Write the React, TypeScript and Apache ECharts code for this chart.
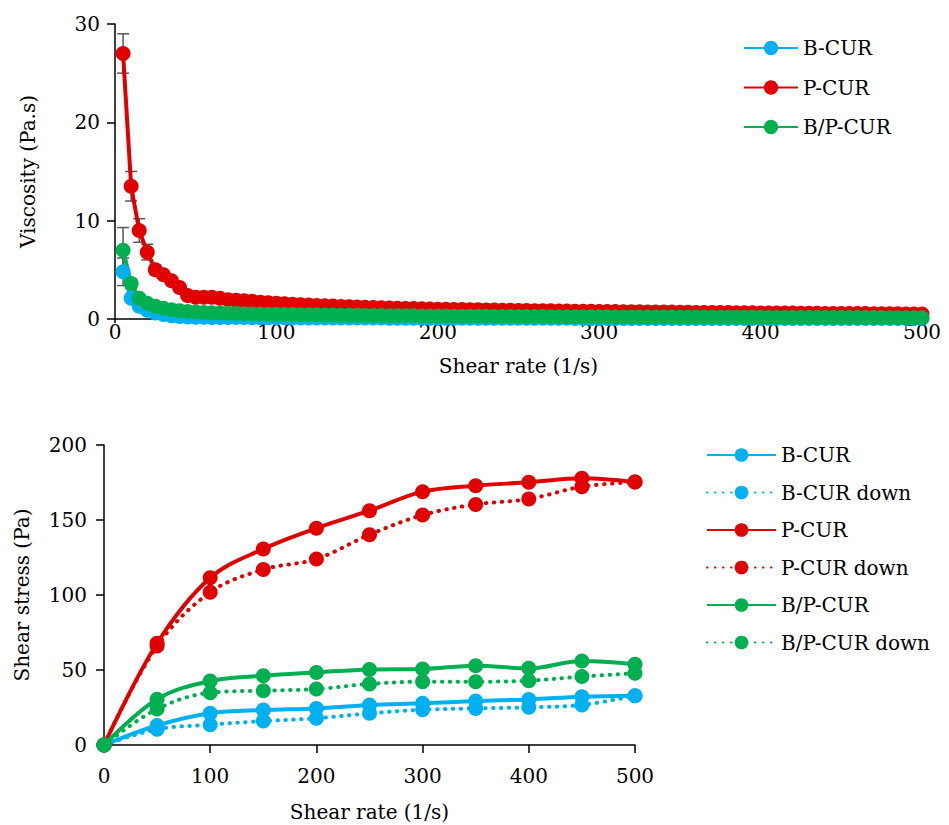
import React, { useEffect, useRef } from 'react';
import * as echarts from 'echarts';

const FONT = 'DejaVu Serif';
const BLUE = '#00B0F0';
const RED = '#E00000';
const GREEN = '#00B050';
const ERR = '#595959';

// ---- Top chart: viscosity vs shear rate ----
const viscRates = [
  5, 10, 15, 20, 25, 30, 35, 40, 45, 50, 55, 60, 65, 70, 75, 80, 85, 90, 95, 100,
  105, 110, 115, 120, 125, 130, 135, 140, 145, 150, 155, 160, 165, 170, 175, 180, 185, 190, 195, 200,
  205, 210, 215, 220, 225, 230, 235, 240, 245, 250, 255, 260, 265, 270, 275, 280, 285, 290, 295, 300,
  305, 310, 315, 320, 325, 330, 335, 340, 345, 350, 355, 360, 365, 370, 375, 380, 385, 390, 395, 400,
  405, 410, 415, 420, 425, 430, 435, 440, 445, 450, 455, 460, 465, 470, 475, 480, 485, 490, 495, 500,
];
const viscB = [
  4.8, 2.1, 1.3, 0.9, 0.6, 0.45, 0.32, 0.25, 0.2, 0.18, 0.17, 0.16, 0.15, 0.15, 0.14, 0.14, 0.13, 0.13, 0.12, 0.12,
  0.12, 0.11, 0.11, 0.11, 0.1, 0.1, 0.1, 0.1, 0.09, 0.09, 0.09, 0.09, 0.09, 0.08, 0.08, 0.08, 0.08, 0.08, 0.08, 0.07,
  0.07, 0.07, 0.07, 0.07, 0.07, 0.07, 0.07, 0.07, 0.07, 0.07, 0.065, 0.065, 0.065, 0.065, 0.065, 0.065, 0.06, 0.06, 0.06, 0.06,
  0.06, 0.06, 0.06, 0.06, 0.055, 0.055, 0.055, 0.055, 0.055, 0.055, 0.055, 0.05, 0.05, 0.05, 0.05, 0.05, 0.05, 0.05, 0.05, 0.05,
  0.05, 0.05, 0.045, 0.045, 0.045, 0.045, 0.045, 0.045, 0.045, 0.045, 0.04, 0.04, 0.04, 0.04, 0.04, 0.04, 0.04, 0.04, 0.04, 0.04,
];
const viscP = [
  27.0, 13.5, 9.0, 6.8, 5.0, 4.5, 3.9, 3.2, 2.4, 2.2, 2.2, 2.2, 2.1, 1.95, 1.9, 1.85, 1.8, 1.7, 1.65, 1.6,
  1.55, 1.5, 1.45, 1.42, 1.38, 1.35, 1.32, 1.28, 1.25, 1.22, 1.2, 1.17, 1.15, 1.12, 1.1, 1.08, 1.06, 1.04, 1.02, 1.0,
  0.99, 0.97, 0.96, 0.95, 0.93, 0.92, 0.91, 0.9, 0.88, 0.87, 0.86, 0.85, 0.84, 0.83, 0.82, 0.81, 0.8, 0.79, 0.78, 0.77,
  0.76, 0.75, 0.74, 0.74, 0.73, 0.72, 0.71, 0.7, 0.7, 0.69, 0.68, 0.67, 0.67, 0.66, 0.65, 0.65, 0.64, 0.63, 0.63, 0.62,
  0.61, 0.61, 0.6, 0.6, 0.59, 0.58, 0.58, 0.57, 0.57, 0.56, 0.56, 0.55, 0.55, 0.54, 0.54, 0.53, 0.53, 0.52, 0.52, 0.51,
];
const viscBP = [
  7.0, 3.6, 2.1, 1.6, 1.3, 1.1, 0.95, 0.85, 0.75, 0.7, 0.66, 0.63, 0.6, 0.58, 0.56, 0.54, 0.52, 0.5, 0.49, 0.48,
  0.46, 0.45, 0.44, 0.43, 0.42, 0.41, 0.4, 0.39, 0.38, 0.37, 0.36, 0.355, 0.35, 0.34, 0.335, 0.33, 0.32, 0.315, 0.31, 0.3,
  0.295, 0.29, 0.285, 0.28, 0.275, 0.27, 0.265, 0.26, 0.26, 0.255, 0.25, 0.25, 0.245, 0.24, 0.24, 0.235, 0.23, 0.23, 0.225, 0.22,
  0.22, 0.215, 0.21, 0.21, 0.205, 0.2, 0.2, 0.2, 0.195, 0.19, 0.19, 0.19, 0.185, 0.18, 0.18, 0.18, 0.175, 0.175, 0.17, 0.17,
  0.165, 0.165, 0.16, 0.16, 0.16, 0.155, 0.155, 0.15, 0.15, 0.15, 0.145, 0.145, 0.14, 0.14, 0.14, 0.135, 0.135, 0.13, 0.13, 0.13,
];
// standard deviations for the first points (rest hidden under markers)
const errB = [1.4, 0.4, 0.2];
const errP = [2.0, 1.5, 1.2, 0.8, 0.5, 0.3];
const errBP = [2.3, 0.5, 0.2];

// ---- Bottom chart: shear stress vs shear rate ----
const stressRates = [0, 50, 100, 150, 200, 250, 300, 350, 400, 450, 500];
const stressB = [0, 13, 21.1, 23.3, 24.4, 26.7, 27.8, 29.3, 30.4, 32.2, 32.9];
const stressBdown = [0, 10.5, 13.5, 16, 17.8, 21.1, 23.5, 24.4, 25.1, 26.7, 32.9];
const stressP = [0, 67.8, 111.5, 130.7, 144.5, 156.2, 168.9, 172.9, 175.1, 177.8, 175.3];
const stressPdown = [0, 66, 101.8, 117, 124, 140.2, 153.3, 160.4, 164, 172.2, 175.3];
const stressBP = [0, 30.5, 42.7, 46.2, 48.4, 50.4, 50.7, 52.9, 51.1, 56, 53.8];
const stressBPdown = [0, 24, 34.9, 36.2, 37.3, 40.7, 42.2, 42.2, 42.9, 45.6, 47.8];

const topLegend = ['B-CUR', 'P-CUR', 'B/P-CUR'];
const bottomLegend = ['B-CUR', 'B-CUR down', 'P-CUR', 'P-CUR down', 'B/P-CUR', 'B/P-CUR down'];

const pairs = (xs: number[], ys: number[]) => ys.map((y, i) => [xs[i], y]);
const errData = (ys: number[], es: number[]) => es.map((e, i) => [viscRates[i], ys[i], e]);

const textStyle = { fontFamily: FONT, fontSize: 20, color: '#000' };

export default function App() {
  const ref = useRef<HTMLDivElement>(null);
  useEffect(() => {
    if (!ref.current) return;
    const chart = echarts.init(ref.current, undefined, { renderer: 'svg' });

    const axisLine = { show: true, lineStyle: { color: '#000', width: 1.5 } };
    const axisTick = (len: number) => ({ show: true, length: len, lineStyle: { color: '#000', width: 1.5 } });

    const topLine = (name: string, color: string, ys: number[]) => ({
      name,
      type: 'line',
      xAxisIndex: 0,
      yAxisIndex: 0,
      data: pairs(viscRates, ys),
      symbol: 'circle',
      symbolSize: 15,
      itemStyle: { color },
      lineStyle: { color, width: 4 },
      z: 3,
    });

    const botLine = (name: string, color: string, ys: number[], dotted: boolean) => ({
      name: 'b:' + name,
      type: 'line',
      xAxisIndex: 1,
      yAxisIndex: 1,
      data: pairs(stressRates, ys),
      symbol: 'circle',
      symbolSize: 15,
      smooth: 0.35,
      itemStyle: { color },
      lineStyle: dotted
        ? { color, width: 4, type: [0.5, 7.5], cap: 'round' }
        : { color, width: 4 },
      z: 3,
    });

    const errSeries = (data: number[][]) => ({
      type: 'custom',
      xAxisIndex: 0,
      yAxisIndex: 0,
      silent: true,
      z: 2,
      data,
      renderItem: (_p: any, api: any) => {
        const x = api.value(0);
        const y = api.value(1);
        const e = api.value(2);
        const t = api.coord([x, y + e]);
        const b = api.coord([x, y - e]);
        const hw = 6;
        const style = { stroke: ERR, lineWidth: 1.5 };
        return {
          type: 'group',
          children: [
            { type: 'line', shape: { x1: t[0], y1: t[1], x2: b[0], y2: b[1] }, style },
            { type: 'line', shape: { x1: t[0] - hw, y1: t[1], x2: t[0] + hw, y2: t[1] }, style },
            { type: 'line', shape: { x1: b[0] - hw, y1: b[1], x2: b[0] + hw, y2: b[1] }, style },
          ],
        };
      },
    });

    chart.setOption({
      animation: false,
      backgroundColor: '#fff',
      textStyle: { fontFamily: FONT },
      grid: [
        { left: 115, top: 24, width: 807, height: 295 },
        { left: 104, top: 445, width: 531, height: 300 },
      ],
      legend: [
        {
          data: topLegend,
          orient: 'vertical',
          left: 743,
          top: 38,
          padding: 0,
          itemWidth: 54,
          itemHeight: 18,
          itemGap: 19.5,
          textStyle,
          selectedMode: false,
        },
        {
          data: bottomLegend.map((n) => 'b:' + n),
          orient: 'vertical',
          left: 706,
          top: 445,
          padding: 0,
          itemWidth: 69,
          itemHeight: 17,
          itemGap: 17.5,
          textStyle,
          selectedMode: false,
          formatter: (n: string) => n.replace(/^b:/, ''),
        },
      ],
      xAxis: [
        {
          type: 'value',
          gridIndex: 0,
          min: 0,
          max: 500,
          interval: 100,
          splitLine: { show: false },
          axisLine,
          axisTick: axisTick(4),
          axisLabel: { ...textStyle, margin: 3 },
          name: 'Shear rate (1/s)',
          nameLocation: 'middle',
          nameGap: 37,
          nameTextStyle: textStyle,
        },
        {
          type: 'value',
          gridIndex: 1,
          min: 0,
          max: 500,
          interval: 100,
          splitLine: { show: false },
          axisLine,
          axisTick: axisTick(8),
          axisLabel: { ...textStyle, margin: 21 },
          name: 'Shear rate (1/s)',
          nameLocation: 'middle',
          nameGap: 57,
          nameTextStyle: textStyle,
        },
      ],
      yAxis: [
        {
          type: 'value',
          gridIndex: 0,
          min: 0,
          max: 30,
          interval: 10,
          splitLine: { show: false },
          axisLine,
          axisTick: axisTick(8),
          axisLabel: { ...textStyle, margin: 15 },
          name: 'Viscosity (Pa.s)',
          nameLocation: 'middle',
          nameGap: 77,
          nameRotate: 90,
          nameTextStyle: textStyle,
        },
        {
          type: 'value',
          gridIndex: 1,
          min: 0,
          max: 200,
          interval: 50,
          splitLine: { show: false },
          axisLine,
          axisTick: axisTick(8),
          axisLabel: { ...textStyle, margin: 17 },
          name: 'Shear stress (Pa)',
          nameLocation: 'middle',
          nameGap: 72,
          nameRotate: 90,
          nameTextStyle: textStyle,
        },
      ],
      series: [
        errSeries(errData(viscB, errB)),
        errSeries(errData(viscP, errP)),
        errSeries(errData(viscBP, errBP)),
        topLine('B-CUR', BLUE, viscB),
        topLine('P-CUR', RED, viscP),
        topLine('B/P-CUR', GREEN, viscBP),
        botLine('B-CUR', BLUE, stressB, false),
        botLine('B-CUR down', BLUE, stressBdown, true),
        botLine('P-CUR', RED, stressP, false),
        botLine('P-CUR down', RED, stressPdown, true),
        botLine('B/P-CUR', GREEN, stressBP, false),
        botLine('B/P-CUR down', GREEN, stressBPdown, true),
      ],
    });
    return () => chart.dispose();
  }, []);

  return (
    <div
      ref={ref}
      style={{ position: 'absolute', left: 0, top: 0, width: 949, height: 825, background: '#fff' }}
    />
  );
}
